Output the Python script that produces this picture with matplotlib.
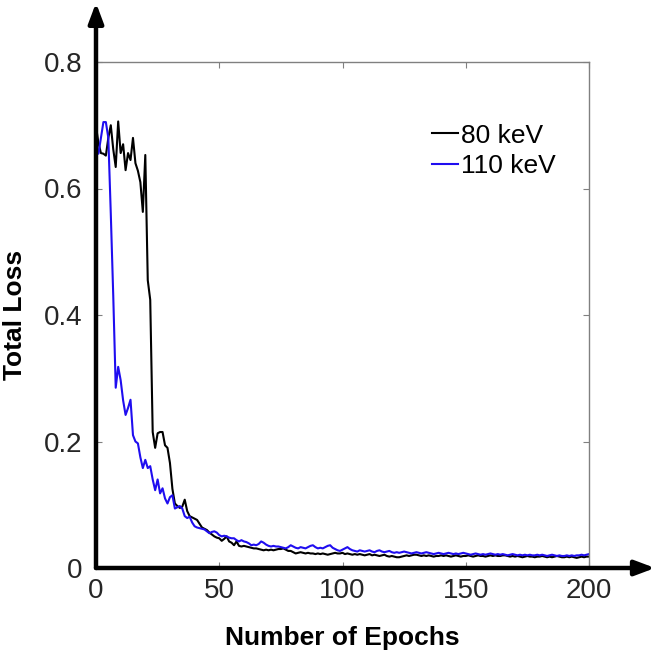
import numpy as np
import matplotlib
matplotlib.use("Agg")
import matplotlib.pyplot as plt

plt.rcParams["font.family"] = ["Liberation Sans", "DejaVu Sans"]

# ============================
# DATA
# ============================
epochs = np.arange(0, 201)

loss_80kev = [
    0.698, 0.672, 0.656, 0.655, 0.652, 0.680, 0.700, 0.662, 0.634, 0.706,
    0.656, 0.670, 0.629, 0.656, 0.645, 0.680, 0.640, 0.628, 0.610, 0.563,
    0.653, 0.455, 0.424, 0.215, 0.190, 0.213, 0.215, 0.215, 0.194, 0.190,
    0.166, 0.125, 0.102, 0.098, 0.095, 0.097, 0.108, 0.090, 0.082, 0.080,
    0.078, 0.076, 0.070, 0.064, 0.062, 0.060, 0.056, 0.053, 0.050, 0.048,
    0.047, 0.043, 0.046, 0.050, 0.042, 0.040, 0.036, 0.042, 0.035, 0.034,
    0.035, 0.034, 0.033, 0.032, 0.031, 0.031, 0.030, 0.029, 0.028, 0.029,
    0.028, 0.029, 0.028, 0.029, 0.030, 0.030, 0.031, 0.029, 0.027, 0.027,
    0.025, 0.023, 0.024, 0.025, 0.024, 0.023, 0.024, 0.023, 0.023, 0.022,
    0.023, 0.022, 0.023, 0.022, 0.021, 0.022, 0.023, 0.024, 0.023, 0.023,
    0.024, 0.022, 0.023, 0.022, 0.021, 0.022, 0.021, 0.022, 0.021, 0.020,
    0.021, 0.022, 0.020, 0.021, 0.020, 0.019, 0.020, 0.021, 0.019, 0.018,
    0.019, 0.018, 0.017, 0.017, 0.018, 0.019, 0.020, 0.019, 0.020, 0.021,
    0.021, 0.020, 0.019, 0.020, 0.019, 0.020, 0.019, 0.018, 0.019, 0.019,
    0.020, 0.019, 0.020, 0.019, 0.018, 0.019, 0.020, 0.019, 0.018, 0.019,
    0.019, 0.020, 0.019, 0.018, 0.019, 0.020, 0.019, 0.019, 0.018, 0.019,
    0.020, 0.019, 0.020, 0.019, 0.019, 0.020, 0.020, 0.019, 0.018, 0.019,
    0.018, 0.019, 0.018, 0.017, 0.018, 0.019, 0.018, 0.018, 0.017, 0.018,
    0.018, 0.019, 0.018, 0.017, 0.018, 0.017, 0.018, 0.019, 0.018, 0.017,
    0.017, 0.018, 0.017, 0.018, 0.017, 0.016, 0.017, 0.018, 0.017, 0.018,
    0.018,
]

loss_110kev = [
    0.670, 0.655, 0.680, 0.705, 0.705, 0.680, 0.560, 0.430, 0.285, 0.318,
    0.297, 0.265, 0.242, 0.253, 0.266, 0.210, 0.200, 0.197, 0.175, 0.158,
    0.171, 0.158, 0.161, 0.140, 0.123, 0.140, 0.118, 0.126, 0.110, 0.102,
    0.112, 0.115, 0.094, 0.096, 0.098, 0.094, 0.082, 0.079, 0.081, 0.072,
    0.066, 0.064, 0.063, 0.062, 0.061, 0.058, 0.055, 0.057, 0.058, 0.056,
    0.052, 0.050, 0.051, 0.050, 0.048, 0.047, 0.047, 0.044, 0.042, 0.044,
    0.042, 0.041, 0.039, 0.036, 0.037, 0.036, 0.038, 0.042, 0.040, 0.037,
    0.035, 0.034, 0.035, 0.034, 0.034, 0.033, 0.032, 0.031, 0.033, 0.036,
    0.034, 0.032, 0.031, 0.033, 0.032, 0.031, 0.033, 0.035, 0.036, 0.033,
    0.031, 0.032, 0.031, 0.033, 0.035, 0.036, 0.032, 0.030, 0.028, 0.027,
    0.029, 0.031, 0.033, 0.030, 0.028, 0.027, 0.026, 0.028, 0.027, 0.026,
    0.027, 0.028, 0.026, 0.025, 0.027, 0.028, 0.026, 0.025, 0.026, 0.027,
    0.025, 0.024, 0.025, 0.024, 0.025, 0.026, 0.025, 0.024, 0.023, 0.024,
    0.025, 0.024, 0.023, 0.024, 0.025, 0.024, 0.023, 0.022, 0.023, 0.024,
    0.023, 0.022, 0.023, 0.024, 0.023, 0.022, 0.023, 0.022, 0.023, 0.024,
    0.023, 0.022, 0.021, 0.022, 0.023, 0.022, 0.021, 0.022, 0.021, 0.022,
    0.023, 0.022, 0.021, 0.022, 0.021, 0.022, 0.021, 0.020, 0.021, 0.022,
    0.021, 0.020, 0.021, 0.020, 0.021, 0.020, 0.021, 0.020, 0.020, 0.021,
    0.020, 0.021, 0.020, 0.019, 0.020, 0.021, 0.020, 0.019, 0.020, 0.019,
    0.019, 0.020, 0.019, 0.020, 0.019, 0.020, 0.020, 0.021, 0.020, 0.021,
    0.022,
]

x_ticks = [0, 50, 100, 150, 200]
y_ticks = [0, 0.2, 0.4, 0.6, 0.8]
series_labels = ["80 keV", "110 keV"]

# ============================
# PLOT
# ============================
fig = plt.figure(figsize=(6.6, 6.59), dpi=100)
ax = fig.add_axes([96 / 660, 1 - 568 / 659, 493 / 660, 506 / 659])

ax.plot(epochs, loss_80kev, color="black", lw=1.5, label=series_labels[0])
ax.plot(epochs, loss_110kev, color="#1f0df0", lw=1.5, label=series_labels[1])

ax.set_xlim(0, 200)
ax.set_ylim(0, 0.8)
ax.set_xticks(x_ticks)
ax.set_yticks(y_ticks)
ax.set_yticklabels(["0", "0.2", "0.4", "0.6", "0.8"])

# thin grey box, thick black left/bottom drawn as arrows
for side in ["top", "right"]:
    ax.spines[side].set_color("#808080")
    ax.spines[side].set_linewidth(1.0)
for side in ["left", "bottom"]:
    ax.spines[side].set_visible(False)

ax.tick_params(direction="in", length=4, width=0.8, color="#808080",
               top=True, right=True, labelsize=20, labelcolor="#262626")
ax.tick_params(axis="y", pad=10)
ax.tick_params(axis="x", pad=7)

# axis arrows
arrow_kw = dict(arrowstyle="-|>,head_length=1.2,head_width=0.45",
                color="black", lw=3.2, shrinkA=0, shrinkB=0)
ax.annotate("", xy=(0, 1.117), xytext=(0, 0), xycoords="axes fraction",
            textcoords="axes fraction", arrowprops=arrow_kw, annotation_clip=False)
ax.annotate("", xy=(1.134, 0), xytext=(0, 0), xycoords="axes fraction",
            textcoords="axes fraction", arrowprops=arrow_kw, annotation_clip=False)

ax.set_xlabel("Number of Epochs", fontsize=19, fontweight="bold", labelpad=16)
ax.set_ylabel("Total Loss", fontsize=19, fontweight="bold", labelpad=12)

leg = ax.legend(loc="upper right", bbox_to_anchor=(0.98, 0.925), frameon=False,
                fontsize=19, handlelength=1.0, handletextpad=0.1,
                labelspacing=0.25)

fig.savefig("out.png", dpi=100)
